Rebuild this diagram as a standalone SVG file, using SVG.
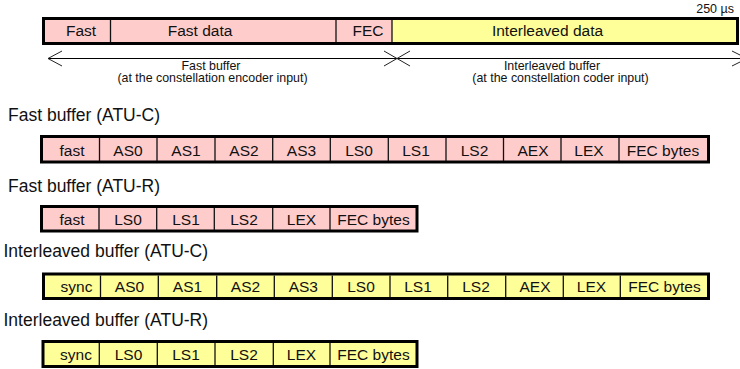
<svg xmlns="http://www.w3.org/2000/svg" width="740" height="369" viewBox="0 0 740 369">
<style>
.bar{stroke:#000;stroke-width:3}
.pink{fill:#FFCCCC}
.yel{fill:#FFFF99}
.div{stroke:#111;stroke-width:1.3}
.t{font-family:"Liberation Sans",Arial,sans-serif;font-size:15.5px;fill:#111;text-anchor:middle}
.lbl{font-family:"Liberation Sans",Arial,sans-serif;font-size:17.5px;fill:#111}
.sm{font-family:"Liberation Sans",Arial,sans-serif;font-size:12.4px;fill:#111;text-anchor:middle}
.ar{fill:none;stroke:#222;stroke-width:1}
</style>
<rect width="740" height="369" fill="#fff"/>

<g id="frame">
  <rect x="43.5" y="18.5" width="694" height="25" class="bar pink"/>
  <rect x="392" y="20" width="344" height="22" class="yel"/>
  <line x1="110.5" y1="20" x2="110.5" y2="42" class="div"/>
  <line x1="336" y1="20" x2="336" y2="42" class="div"/>
  <line x1="392" y1="20" x2="392" y2="42" class="div"/>
  <text x="81" y="35.5" class="t">Fast</text>
  <text x="200" y="35.5" class="t">Fast data</text>
  <text x="368" y="35.5" class="t">FEC</text>
  <text x="547.5" y="35.5" class="t">Interleaved data</text>
  <text x="734" y="13" class="sm" style="font-size:12.5px;text-anchor:end">250 µs</text>
</g>

<g id="connectors">
  <line x1="48" y1="58.5" x2="740" y2="58.5" stroke="#000" stroke-width="1"/>
  <polyline points="62,51 48,58.5 62,66" class="ar"/>
  <polyline points="384,51 397,58.5 384,66" class="ar"/>
  <polyline points="410,51 397,58.5 410,66" class="ar"/>
  <polyline points="732,51 740,55" class="ar"/>
  <polyline points="732,66 740,62" class="ar"/>
</g>

<g id="fast-buffer-label">
  <text x="211" y="69.5" class="sm">Fast buffer</text>
  <text x="212.5" y="82" class="sm">(at the constellation encoder input)</text>
</g>
<g id="interleaved-buffer-label">
  <text x="552" y="69.5" class="sm">Interleaved buffer</text>
  <text x="560.5" y="82" class="sm">(at the constellation coder input)</text>
</g>

<g id="fast-atu-c">
  <text x="8" y="121" class="lbl">Fast buffer (ATU-C)</text>
  <rect x="41.5" y="136.5" width="667" height="25.5" class="bar pink"/>
  <g class="div">
    <line x1="99.5" y1="138" x2="99.5" y2="161"/>
    <line x1="157" y1="138" x2="157" y2="161"/>
    <line x1="215" y1="138" x2="215" y2="161"/>
    <line x1="272.7" y1="138" x2="272.7" y2="161"/>
    <line x1="330.3" y1="138" x2="330.3" y2="161"/>
    <line x1="388.3" y1="138" x2="388.3" y2="161"/>
    <line x1="446" y1="138" x2="446" y2="161"/>
    <line x1="503.5" y1="138" x2="503.5" y2="161"/>
    <line x1="561" y1="138" x2="561" y2="161"/>
    <line x1="619" y1="138" x2="619" y2="161"/>
  </g>
  <text x="72" y="156" class="t">fast</text>
  <text x="128" y="156" class="t">AS0</text>
  <text x="186" y="156" class="t">AS1</text>
  <text x="244" y="156" class="t">AS2</text>
  <text x="301.5" y="156" class="t">AS3</text>
  <text x="359" y="156" class="t">LS0</text>
  <text x="416" y="156" class="t">LS1</text>
  <text x="474.5" y="156" class="t">LS2</text>
  <text x="533" y="156" class="t">AEX</text>
  <text x="589" y="156" class="t">LEX</text>
  <text x="663" y="156" class="t">FEC bytes</text>
</g>

<g id="fast-atu-r">
  <text x="8" y="191.5" class="lbl">Fast buffer (ATU-R)</text>
  <rect x="41.5" y="206.5" width="375.5" height="24.5" class="bar pink"/>
  <g class="div">
    <line x1="99" y1="208" x2="99" y2="230"/>
    <line x1="156.7" y1="208" x2="156.7" y2="230"/>
    <line x1="214.3" y1="208" x2="214.3" y2="230"/>
    <line x1="272.7" y1="208" x2="272.7" y2="230"/>
    <line x1="330" y1="208" x2="330" y2="230"/>
  </g>
  <text x="72" y="225" class="t">fast</text>
  <text x="128" y="225" class="t">LS0</text>
  <text x="186" y="225" class="t">LS1</text>
  <text x="244" y="225" class="t">LS2</text>
  <text x="301.5" y="225" class="t">LEX</text>
  <text x="373.5" y="225" class="t">FEC bytes</text>
</g>

<g id="interleaved-atu-c">
  <text x="3.5" y="257.3" class="lbl">Interleaved buffer (ATU-C)</text>
  <rect x="43.5" y="274" width="665" height="24.5" class="bar yel"/>
  <g class="div">
    <line x1="100.5" y1="275.5" x2="100.5" y2="297"/>
    <line x1="158.3" y1="275.5" x2="158.3" y2="297"/>
    <line x1="216.7" y1="275.5" x2="216.7" y2="297"/>
    <line x1="274.3" y1="275.5" x2="274.3" y2="297"/>
    <line x1="332.3" y1="275.5" x2="332.3" y2="297"/>
    <line x1="390" y1="275.5" x2="390" y2="297"/>
    <line x1="447.7" y1="275.5" x2="447.7" y2="297"/>
    <line x1="505.7" y1="275.5" x2="505.7" y2="297"/>
    <line x1="563.3" y1="275.5" x2="563.3" y2="297"/>
    <line x1="620.3" y1="275.5" x2="620.3" y2="297"/>
  </g>
  <text x="76.5" y="291.7" class="t">sync</text>
  <text x="129.5" y="291.7" class="t">AS0</text>
  <text x="187.5" y="291.7" class="t">AS1</text>
  <text x="245.5" y="291.7" class="t">AS2</text>
  <text x="303.3" y="291.7" class="t">AS3</text>
  <text x="361" y="291.7" class="t">LS0</text>
  <text x="418" y="291.7" class="t">LS1</text>
  <text x="476" y="291.7" class="t">LS2</text>
  <text x="535" y="291.7" class="t">AEX</text>
  <text x="591.5" y="291.7" class="t">LEX</text>
  <text x="664.5" y="291.7" class="t">FEC bytes</text>
</g>

<g id="interleaved-atu-r">
  <text x="3.5" y="326" class="lbl">Interleaved buffer (ATU-R)</text>
  <rect x="43" y="341.5" width="374" height="25" class="bar yel"/>
  <g class="div">
    <line x1="99.3" y1="343" x2="99.3" y2="365"/>
    <line x1="157.3" y1="343" x2="157.3" y2="365"/>
    <line x1="215" y1="343" x2="215" y2="365"/>
    <line x1="273.3" y1="343" x2="273.3" y2="365"/>
    <line x1="330" y1="343" x2="330" y2="365"/>
  </g>
  <text x="76" y="360" class="t">sync</text>
  <text x="128.5" y="360" class="t">LS0</text>
  <text x="186" y="360" class="t">LS1</text>
  <text x="244" y="360" class="t">LS2</text>
  <text x="301.5" y="360" class="t">LEX</text>
  <text x="373.5" y="360" class="t">FEC bytes</text>
</g>
</svg>
